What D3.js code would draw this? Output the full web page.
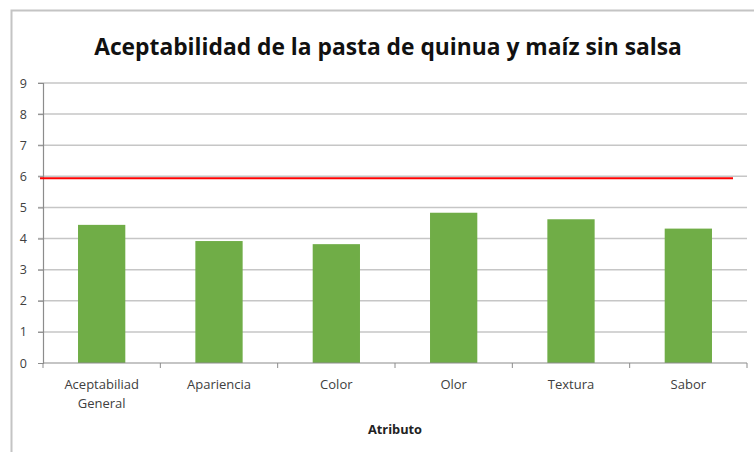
<!DOCTYPE html>
<html>
<head>
<meta charset="utf-8">
<script src="https://cdn.jsdelivr.net/npm/d3@7"></script>
<style>
  body { margin: 0; background: #fff; }
  svg text { font-family: "Open Sans", sans-serif; }
</style>
</head>
<body>
<svg id="chart" width="754" height="452"></svg>
<script>
'use strict';

// data
var categories = [['Aceptabiliad', 'General'], ['Apariencia'], ['Color'], ['Olor'], ['Textura'], ['Sabor']];
var scores = [4.44, 3.92, 3.82, 4.83, 4.62, 4.32];
var yTicks = [0, 1, 2, 3, 4, 5, 6, 7, 8, 9];
var limitValue = 5.94;
var title = 'Aceptabilidad de la pasta de quinua y maíz sin salsa';
var xTitle = 'Atributo';

var svg = d3.select('#chart');
var margin = { top: 83, right: 7, bottom: 89, left: 43 };
var width = 754 - margin.left - margin.right;
var height = 452 - margin.top - margin.bottom;

// chart frame
svg.append('path')
    .attr('d', 'M11.5,452 V10.5 H754')
    .attr('fill', 'none')
    .attr('stroke', '#c4c4c4')
    .attr('stroke-width', 2);

svg.append('text')
    .attr('x', 388)
    .attr('y', 55)
    .attr('text-anchor', 'middle')
    .attr('font-size', 22.8)
    .attr('font-weight', 'bold')
    .attr('fill', '#111')
    .text(title);

var g = svg.append('g').attr('transform', 'translate(' + margin.left + ',' + margin.top + ')');

var x = d3.scaleBand()
    .domain(d3.range(categories.length))
    .range([0, width])
    .paddingInner(0.597)
    .paddingOuter(0.2985);

var y = d3.scaleLinear().domain([0, 9]).range([height, 0]);

// gridlines
g.selectAll('.grid').data(yTicks.slice(1)).enter().append('line')
    .attr('class', 'grid')
    .attr('x1', -5).attr('x2', width)
    .attr('y1', function (d) { return y(d); })
    .attr('y2', function (d) { return y(d); })
    .attr('stroke', '#c6c6c6')
    .attr('stroke-width', 1.5);

// y axis
var yAxis = g.append('g').call(d3.axisLeft(y).tickValues(yTicks).tickSize(5).tickPadding(11));
yAxis.select('.domain').attr('stroke', '#8c8c8c').attr('stroke-width', 1.2);
yAxis.selectAll('.tick line').attr('stroke', '#8c8c8c');
yAxis.selectAll('.tick text').attr('font-size', 12.5).attr('fill', '#404040')
    .style('font-family', '"Open Sans", sans-serif');

// bars
g.selectAll('.bar').data(scores).enter().append('rect')
    .attr('class', 'bar')
    .attr('x', function (d, i) { return x(i); })
    .attr('y', function (d) { return y(d); })
    .attr('width', x.bandwidth())
    .attr('height', function (d) { return height - y(d); })
    .attr('fill', '#70ad47');

// x axis with ticks between categories
var step = x.step();
var xAxis = g.append('g').attr('transform', 'translate(0,' + height + ')');
xAxis.append('line')
    .attr('x1', 0).attr('x2', width)
    .attr('stroke', '#8c8c8c').attr('stroke-width', 1.2);
xAxis.selectAll('.xt').data(d3.range(categories.length + 1)).enter().append('line')
    .attr('class', 'xt')
    .attr('x1', function (d) { return d * step; })
    .attr('x2', function (d) { return d * step; })
    .attr('y1', 0).attr('y2', 5)
    .attr('stroke', '#8c8c8c');

var labels = xAxis.selectAll('.xl').data(categories).enter().append('text')
    .attr('class', 'xl')
    .attr('text-anchor', 'middle')
    .attr('font-size', 13)
    .attr('fill', '#404040')
    .attr('transform', function (d, i) { return 'translate(' + (x(i) + x.bandwidth() / 2) + ',26)'; });
labels.selectAll('tspan').data(function (d) { return d; }).enter().append('tspan')
    .attr('x', 0)
    .attr('dy', function (d, i) { return i === 0 ? 0 : 19; })
    .text(function (d) { return d; });

// reference line
g.append('line')
    .attr('x1', -3).attr('x2', width - 14)
    .attr('y1', y(limitValue)).attr('y2', y(limitValue))
    .attr('stroke', '#ff0000')
    .attr('stroke-width', 2);

svg.append('text')
    .attr('x', margin.left + width / 2)
    .attr('y', 434)
    .attr('text-anchor', 'middle')
    .attr('font-size', 12.8)
    .attr('font-weight', 'bold')
    .attr('fill', '#222')
    .text(xTitle);
</script>
</body>
</html>
